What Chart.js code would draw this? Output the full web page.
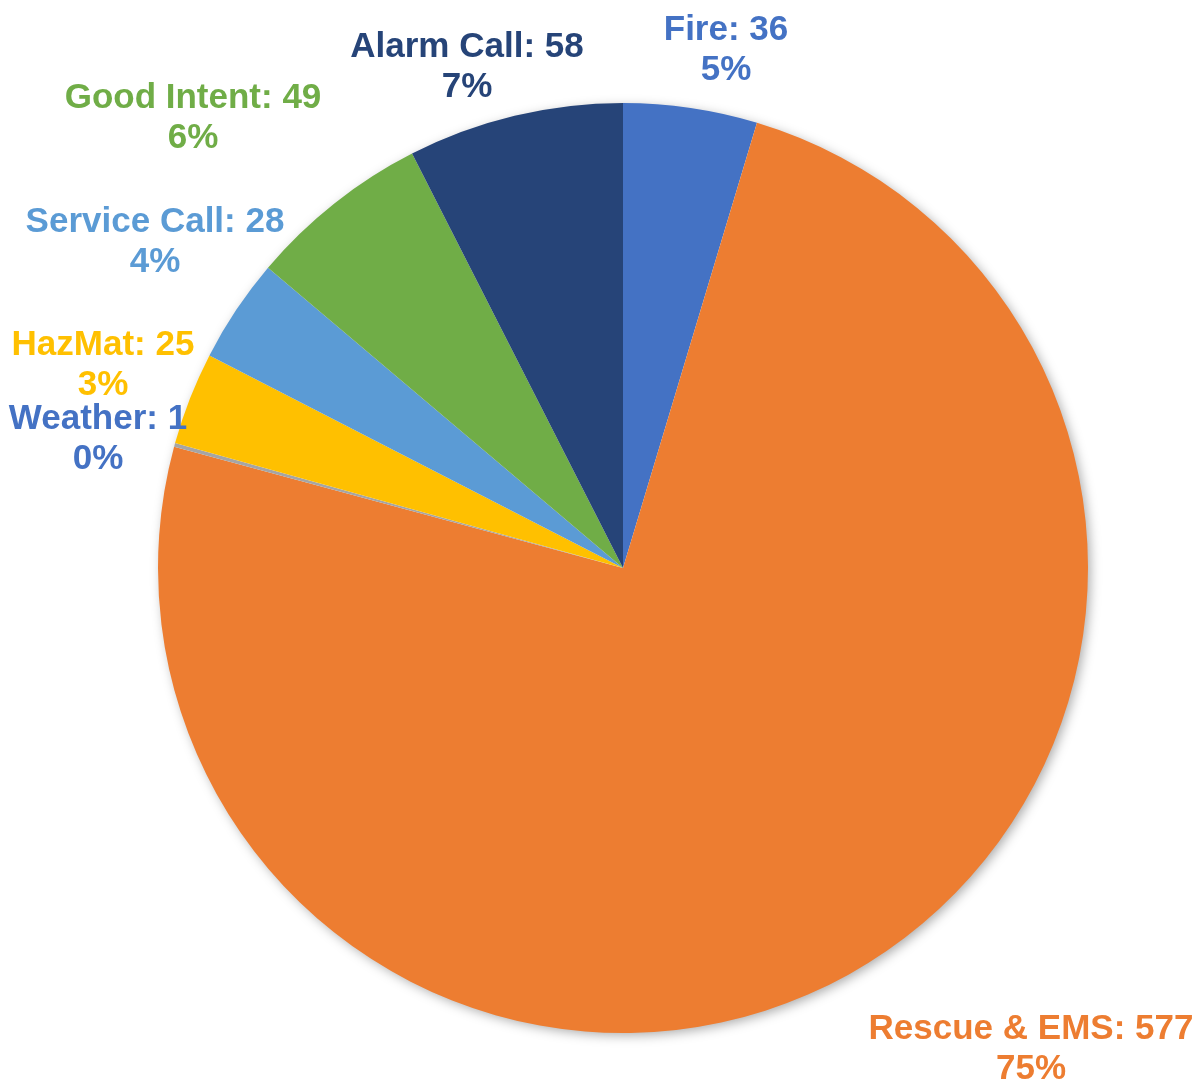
<!DOCTYPE html>
<html>
<head>
<meta charset="utf-8">
<script src="https://cdn.jsdelivr.net/npm/chart.js@4/dist/chart.umd.min.js"></script>
<style>
  html, body { margin: 0; padding: 0; background: #fff; }
  #wrap { width: 1204px; height: 1084px; }
</style>
</head>
<body>
<div id="wrap"><canvas id="pie" width="1204" height="1084"></canvas></div>
<script>
// Incident types, clockwise from 12 o'clock
const categories = ['Fire', 'Rescue & EMS', 'Weather', 'HazMat', 'Service Call', 'Good Intent', 'Alarm Call'];
const counts = [36, 577, 1, 25, 28, 49, 58];
const sliceColors = ['#4472C4', '#ED7D31', '#A5A5A5', '#FFC000', '#5B9BD5', '#70AD47', '#264478'];
const labelColors = ['#4472C4', '#ED7D31', '#4472C4', '#FFC000', '#5B9BD5', '#70AD47', '#264478'];

// where each two-line label block is centred (text placement only)
const labelSpots = [[726, 50], [1031, 1049], [98, 439], [103, 365], [155, 242], [193, 118], [467, 67]];

const total = counts.reduce((a, b) => a + b, 0);

// soft drop shadow behind the whole pie
const pieShadow = {
  id: 'pieShadow',
  beforeDatasetsDraw(chart) {
    const arc = chart.getDatasetMeta(0).data[0];
    if (!arc) return;
    const ctx = chart.ctx;
    ctx.save();
    ctx.shadowColor = 'rgba(0,0,0,0.35)';
    ctx.shadowBlur = 12;
    ctx.shadowOffsetX = 3;
    ctx.shadowOffsetY = 3;
    ctx.fillStyle = '#ffffff';
    ctx.beginPath();
    ctx.arc(arc.x, arc.y, arc.outerRadius - 1, 0, Math.PI * 2);
    ctx.fill();
    ctx.restore();
  }
};

const sliceLabels = {
  id: 'sliceLabels',
  afterDatasetsDraw(chart) {
    const ctx = chart.ctx;
    ctx.save();
    ctx.font = 'bold 35px "Liberation Sans", Arial, sans-serif';
    ctx.textAlign = 'center';
    ctx.textBaseline = 'middle';
    categories.forEach((name, i) => {
      const pct = Math.round(counts[i] / total * 100) + '%';
      const [x, y] = labelSpots[i];
      ctx.fillStyle = labelColors[i];
      ctx.fillText(name + ': ' + counts[i], x, y - 20);
      ctx.fillText(pct, x, y + 20);
    });
    ctx.restore();
  }
};

new Chart(document.getElementById('pie').getContext('2d'), {
  type: 'pie',
  data: {
    labels: categories,
    datasets: [{
      data: counts,
      backgroundColor: sliceColors,
      borderWidth: 0
    }]
  },
  options: {
    responsive: false,
    animation: false,
    layout: { padding: { left: 158, right: 116, top: 103, bottom: 51 } },
    plugins: {
      legend: { display: false },
      tooltip: { enabled: false }
    }
  },
  plugins: [pieShadow, sliceLabels]
});
</script>
</body>
</html>
